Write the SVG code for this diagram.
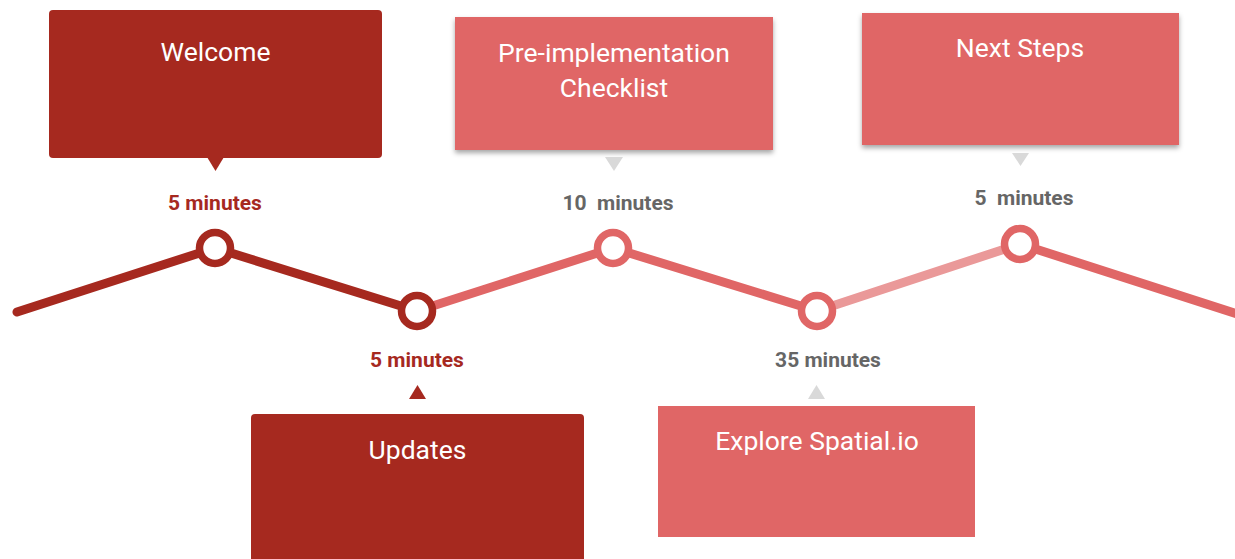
<svg xmlns="http://www.w3.org/2000/svg" width="1235" height="559" viewBox="0 0 1235 559">
<defs>
<filter id="sh" x="-10%" y="-10%" width="120%" height="130%">
<feDropShadow dx="0" dy="3" stdDeviation="2.5" flood-color="#000" flood-opacity="0.35"/>
</filter>
</defs>
<style>
.box-title{font-family:Roboto,"Liberation Sans",sans-serif;font-size:26.5px;fill:#fff;text-anchor:middle}
.dur{font-family:Roboto,"Liberation Sans",sans-serif;font-size:21px;font-weight:bold;text-anchor:middle}
.dark{fill:#a6291f}
.light{fill:#e06666}
.grayt{fill:#666666}
.ptr-gray{fill:#d9d9d9}
.seg{fill:none;stroke-width:9;stroke-linecap:round;stroke-linejoin:round}
.dot{fill:#fff;stroke-width:7.5}
</style>
<rect width="1235" height="559" fill="#fff"/>
<g id="connectors">
<polyline class="seg" stroke="#a6291f" points="17,312 215,248 417,311"/>
<polyline class="seg" stroke="#e06666" points="417,311 613,248 817,311"/>
<polyline class="seg" stroke="#ea9999" points="817,311 1020,244"/>
<polyline class="seg" stroke="#e06666" points="1020,244 1250,318"/>
</g>
<g id="welcome">
<rect class="dark" x="49" y="10" width="333" height="148" rx="4"/>
<polygon class="dark" points="207,157 224,157 215.5,171"/>
<text class="box-title" x="215.5" y="61">Welcome</text>
<text class="dur dark" x="215" y="210">5 minutes</text>
<circle class="dot" cx="215" cy="248" r="15.5" stroke="#a6291f"/>
</g>
<g id="updates">
<rect class="dark" x="251" y="414" width="333" height="160" rx="4"/>
<polygon class="dark" points="409,399 426,399 417.5,385"/>
<text class="box-title" x="417.5" y="459">Updates</text>
<text class="dur dark" x="417" y="367">5 minutes</text>
<circle class="dot" cx="417" cy="311" r="15.5" stroke="#a6291f"/>
</g>
<g id="preimpl">
<rect class="light" x="455" y="17" width="318" height="133" filter="url(#sh)"/>
<polygon class="ptr-gray" points="605,157 623,157 614,171"/>
<text class="box-title" x="614" y="62">Pre-implementation</text>
<text class="box-title" x="614" y="97">Checklist</text>
<text class="dur grayt" x="618" y="210" xml:space="preserve">10  minutes</text>
<circle class="dot" cx="613" cy="248" r="15.5" stroke="#e06666"/>
</g>
<g id="explore">
<rect class="light" x="658" y="406" width="317" height="131"/>
<polygon class="ptr-gray" points="808,399 825,399 816.5,385"/>
<text class="box-title" x="817" y="450">Explore Spatial.io</text>
<text class="dur grayt" x="828" y="367">35 minutes</text>
<circle class="dot" cx="817" cy="311" r="15.5" stroke="#e06666"/>
</g>
<g id="nextsteps">
<rect class="light" x="862" y="13" width="317" height="132" filter="url(#sh)"/>
<polygon class="ptr-gray" points="1012,153 1029,153 1020.5,166"/>
<text class="box-title" x="1020" y="57">Next Steps</text>
<text class="dur grayt" x="1024" y="205" xml:space="preserve">5  minutes</text>
<circle class="dot" cx="1020" cy="244" r="15.5" stroke="#e06666"/>
</g>
</svg>
